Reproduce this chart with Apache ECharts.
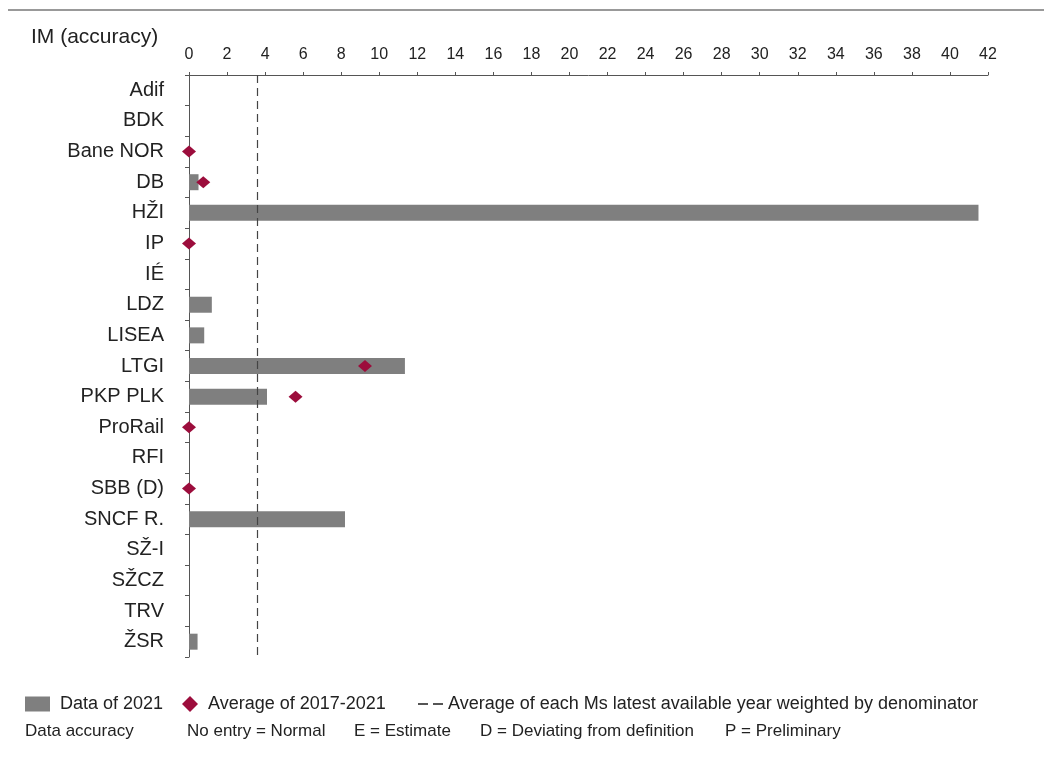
<!DOCTYPE html>
<html>
<head>
<meta charset="utf-8">
<script src="https://cdn.jsdelivr.net/npm/echarts@6/dist/echarts.min.js"></script>
<style>
html,body{margin:0;padding:0;background:#fff;}
#chart{width:1044px;height:760px;}
</style>
</head>
<body>
<div id="chart"></div>
<script>
const categories = ['Adif','BDK','Bane NOR','DB','HŽI','IP','IÉ','LDZ','LISEA','LTGI','PKP PLK','ProRail','RFI','SBB (D)','SNCF R.','SŽ-I','SŽCZ','TRV','ŽSR'];
const data2021 = [null, null, null, 0.5, 41.5, null, null, 1.2, 0.8, 11.35, 4.1, null, null, null, 8.2, null, null, null, 0.45];
const avg2017_2021 = [null, null, 0, 0.75, null, 0, null, null, null, 9.25, 5.6, 0, null, 0, null, null, null, null, null];
const weightedAverage = 3.6;
const xTicks = { min: 0, max: 42, interval: 2 };

const FONT = 'Liberation Sans, Arial, sans-serif';
const chart = echarts.init(document.getElementById('chart'), null, { renderer: 'canvas' });

const option = {
  backgroundColor: '#ffffff',
  animation: false,
  textStyle: { fontFamily: FONT },
  title: {
    text: 'IM (accuracy)',
    left: 26, top: 22,
    textStyle: { fontFamily: FONT, fontSize: 21, fontWeight: 'normal', color: '#222' }
  },
  grid: { left: 189, right: 56, top: 75, bottom: 103 },
  xAxis: {
    type: 'value', position: 'top',
    min: xTicks.min, max: xTicks.max, interval: xTicks.interval,
    axisLine: { show: true, lineStyle: { color: '#555', width: 1 } },
    axisTick: { show: true, length: 3, lineStyle: { color: '#555' } },
    axisLabel: { fontFamily: FONT, fontSize: 16, color: '#222', margin: 12 },
    splitLine: { show: false }
  },
  yAxis: {
    type: 'category', inverse: true, data: categories,
    axisLine: { show: true, lineStyle: { color: '#555', width: 1 } },
    axisTick: { show: true, length: 4, lineStyle: { color: '#555' } },
    axisLabel: { fontFamily: FONT, fontSize: 20, color: '#222', margin: 25 }
  },
  legend: [
    {
      left: 20, top: 690, itemWidth: 25, itemHeight: 15,
      data: [{ name: 'Data of 2021', icon: 'rect' }],
      textStyle: { fontFamily: FONT, fontSize: 18, color: '#222', padding: [0, 0, 0, 5] }
    },
    {
      left: 177, top: 690, itemWidth: 16, itemHeight: 16,
      data: [{ name: 'Average of 2017-2021', icon: 'diamond' }],
      textStyle: { fontFamily: FONT, fontSize: 18, color: '#222', padding: [0, 0, 0, 5] }
    },
    {
      left: 413, top: 690, itemWidth: 25, itemHeight: 2,
      data: [{ name: 'Average of each Ms latest available year weighted by denominator',
               icon: 'path://M0,0 H10 V2 H0 Z M15,0 H25 V2 H15 Z',
               itemStyle: { color: '#555' } }],
      textStyle: { fontFamily: FONT, fontSize: 18, color: '#222', padding: [0, 0, 0, 0] }
    }
  ],
  graphic: [
    { type: 'line', shape: { x1: 8, y1: 10, x2: 1044, y2: 10 }, style: { stroke: '#777', lineWidth: 1.5 } },
    { type: 'text', left: 25, top: 723, style: { text: 'Data accuracy', fontFamily: FONT, fontSize: 17, fill: '#222' } },
    { type: 'text', left: 187, top: 723, style: { text: 'No entry = Normal', fontFamily: FONT, fontSize: 17, fill: '#222' } },
    { type: 'text', left: 354, top: 723, style: { text: 'E = Estimate', fontFamily: FONT, fontSize: 17, fill: '#222' } },
    { type: 'text', left: 480, top: 723, style: { text: 'D = Deviating from definition', fontFamily: FONT, fontSize: 17, fill: '#222' } },
    { type: 'text', left: 725, top: 723, style: { text: 'P = Preliminary', fontFamily: FONT, fontSize: 17, fill: '#222' } }
  ],
  series: [
    {
      name: 'Data of 2021', type: 'bar', data: data2021,
      barWidth: 16,
      itemStyle: { color: '#7f7f7f' },
      z: 2
    },
    {
      name: 'Average of 2017-2021', type: 'scatter',
      data: avg2017_2021.map((v, i) => v == null ? null : [v, categories[i]]),
      symbol: 'diamond', symbolSize: [14, 12],
      itemStyle: { color: '#9c0d3c', opacity: 1 },
      z: 4
    },
    {
      name: 'Average of each Ms latest available year weighted by denominator', type: 'line',
      data: [],
      symbol: 'none',
      lineStyle: { color: '#555', type: [8, 5], width: 1 },
      markLine: {
        silent: true, symbol: 'none',
        label: { show: false },
        lineStyle: { color: '#444', type: [8, 5], width: 1.2 },
        data: [{ xAxis: weightedAverage }]
      },
      z: 3
    }
  ]
};
chart.setOption(option);
</script>
</body>
</html>
